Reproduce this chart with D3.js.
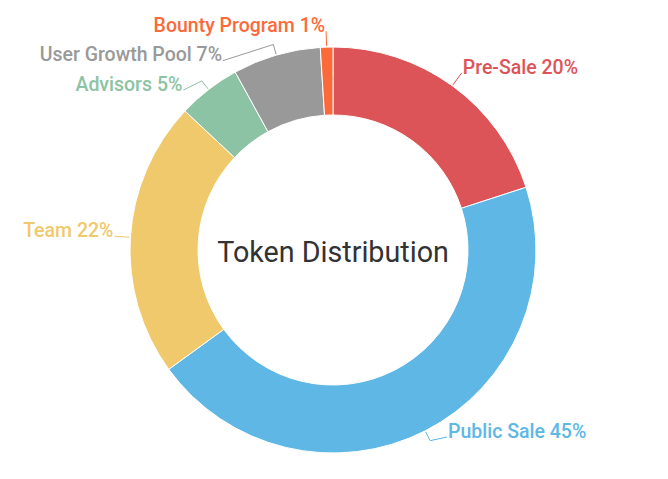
<!DOCTYPE html>
<html>
<head>
<meta charset="utf-8">
<script src="https://cdn.jsdelivr.net/npm/d3@7"></script>
<style>
  html, body { margin: 0; padding: 0; background: #fff; }
  svg { display: block; font-family: Roboto, "Noto Sans", sans-serif; }
</style>
</head>
<body>
<svg id="chart" width="668" height="479"></svg>
<script>
// chart data
var categories = ["Pre-Sale", "Public Sale", "Team", "Advisors", "User Growth Pool", "Bounty Program"];
var values = [20, 45, 22, 5, 7, 1];
var colors = ["#dc5457", "#5eb7e5", "#efc96b", "#8cc3a4", "#999999", "#fd6a3a"];
var centerTitle = "Token Distribution";

var width = 668, height = 479;
var cx = 333, cy = 250;
var outerR = 203, innerR = 135;
var labelR = 219, tickLen = 11;
var labelGap = 29.5, labelMaxY = 437;

var svg = d3.select("#chart");
var g = svg.append("g").attr("transform", "translate(" + cx + "," + cy + ")");

var rows = categories.map(function (c, i) { return { name: c, value: values[i], color: colors[i] }; });

var pie = d3.pie().sort(null).value(function (d) { return d.value; });
var arc = d3.arc().innerRadius(innerR).outerRadius(outerR);
var arcs = pie(rows);

g.selectAll("path.slice")
  .data(arcs)
  .enter().append("path")
  .attr("class", "slice")
  .attr("d", arc)
  .attr("fill", function (d) { return d.data.color; })
  .attr("stroke", "#fff")
  .attr("stroke-width", 1);

// label layout: natural spot on a circle, then push apart vertically per side
arcs.forEach(function (d) {
  d.mid = (d.startAngle + d.endAngle) / 2;
  d.side = Math.sin(d.mid) >= 0 ? 1 : -1;
  d.ly = cy - labelR * Math.cos(d.mid);
});

[-1, 1].forEach(function (side) {
  var list = arcs.filter(function (d) { return d.side === side; })
    .sort(function (a, b) { return a.ly - b.ly; });
  var prev = -Infinity;
  list.forEach(function (d) {
    d.ly = Math.min(Math.max(d.ly, prev + labelGap), labelMaxY);
    prev = d.ly;
  });
});

arcs.forEach(function (d) {
  var dy = d.ly - cy;
  var dx = Math.sqrt(Math.max(0, labelR * labelR - dy * dy));
  d.lx = cx + d.side * dx;
});

var lines = svg.append("g");
arcs.forEach(function (d) {
  var s = Math.sin(d.mid), c = Math.cos(d.mid);
  var p0 = [cx + (outerR + 1) * s, cy - (outerR + 1) * c];
  var p1 = [cx + (outerR + tickLen) * s, cy - (outerR + tickLen) * c];
  var p2 = [d.lx, d.ly];
  lines.append("path")
    .attr("d", d3.line()([p0, p1, p2]))
    .attr("fill", "none")
    .attr("stroke", d.data.color)
    .attr("stroke-width", 1);
});

svg.append("g").selectAll("text")
  .data(arcs)
  .enter().append("text")
  .attr("x", function (d) { return d.lx + d.side * 1; })
  .attr("y", function (d) { return d.ly - 6; })
  .attr("dy", "0.35em")
  .attr("text-anchor", function (d) { return d.side > 0 ? "start" : "end"; })
  .attr("font-size", 19.5)
  .attr("font-weight", 500)
  .attr("fill", function (d) { return d.data.color; })
  .text(function (d) { return d.data.name + " " + d.data.value + "%"; });

g.append("text")
  .attr("text-anchor", "middle")
  .attr("y", 2)
  .attr("dy", "0.35em")
  .attr("font-size", 28.7)
  .attr("fill", "#333")
  .text(centerTitle);
</script>
</body>
</html>
